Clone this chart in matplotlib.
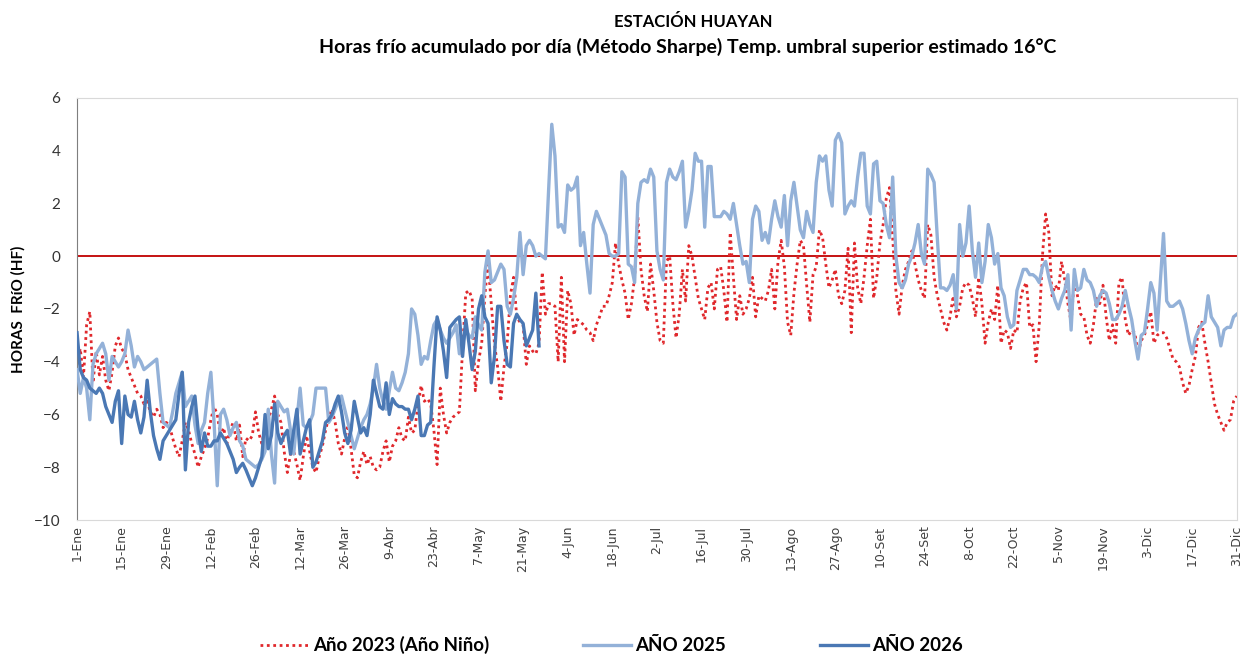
import numpy as np
import matplotlib
matplotlib.use("Agg")
import matplotlib.pyplot as plt

# Horas frio por dia, 1-Ene .. 31-Dic
anio_2023 = [
    # 1-Ene .. 13-Feb
    -4.1, -3.5, -4.6, -2.6, -2.1, -4.8, -3.6, -4.5, -3.8, -4.7, -5.1, -4.4, -3.4, -3.1, -3.5,
    -3.7, -4.3, -4.6, -4.9, -5.2, -5.3, -5.6, -5.5, -5.9, -6.1, -5.8, -6.0, -6.5, -6.3, -6.4,
    -6.9, -7.3, -7.6, -7.0, -6.3, -6.6, -7.1, -7.5, -8.0, -7.6, -7.3, -6.9, -6.2, -5.7,
    # 14-Feb .. 1-Abr
    -6.0, -6.8, -6.5, -7.1, -6.6, -6.3, -7.0, -6.4, -7.6, -6.9, -7.0, -6.8, -5.9, -6.7, -7.1,
    -6.5, -6.2, -5.8, -5.3, -6.0, -6.3, -7.4, -8.2, -7.5, -7.4, -7.9, -8.5, -7.6, -6.8, -7.4,
    -8.0, -8.2, -7.6, -7.2, -6.6, -6.1, -5.8, -6.3, -7.1, -7.5, -6.9, -6.4, -7.3, -8.3, -8.4,
    -7.8, -7.4,
    # 2-Abr .. 16-May
    -7.9, -7.6, -8.0, -8.1, -8.0, -7.4, -7.0, -7.8, -7.2, -7.0, -6.5, -6.9, -7.0, -6.1, -6.7,
    -6.6, -5.6, -4.9, -5.5, -5.4, -5.6, -6.6, -7.9, -5.0, -6.0, -6.7, -6.3, -6.1, -6.0, -5.9,
    -3.5, -1.4, -1.3, -1.6, -5.1, -4.0, -3.3, -1.5, -0.2, -1.8, -3.3, -4.2, -5.5, -4.2, -3.3,
    # 17-May .. 1-Jul
    -1.5, -0.8, -2.3, -2.5, -2.6, -4.1, -3.4, -3.6, -3.7, -3.3, -0.6, -2.2, -1.8, -1.8, -1.9,
    -4.0, -0.8, -4.0, -1.3, -1.8, -3.0, -2.4, -2.5, -2.6, -2.8, -2.9, -3.2, -2.6, -2.3, -1.9,
    -1.9, -1.5, -1.0, 0.5, -0.3, -0.9, -1.4, -2.4, -1.8, -0.8, 1.5, -0.5, -1.5, -2.1, -0.3,
    -1.3,
    # 2-Jul .. 15-Ago
    -2.5, -3.2, -3.3, -0.2, 0.0, -1.8, -3.1, -2.2, -0.5, -1.7, 0.4, 0.0, -0.8, -1.6, -2.0,
    -2.4, -1.2, -1.0, -2.0, -0.5, -0.4, -1.3, -2.5, 0.9, -0.8, -2.4, -1.5, -2.2, -2.0, -1.6,
    -0.8, -2.3, -1.5, -1.6, -1.7, -1.3, -0.5, -2.0, -0.2, 0.6, -0.4, -2.5, -3.0, -1.4, -0.3,
    # 16-Ago .. 30-Set
    0.6, 0.4, -1.1, -2.5, -0.7, -0.4, 1.0, 0.7, -0.3, -1.2, -0.9, -0.5, -1.5, -1.8, -1.3,
    0.3, -2.9, 0.5, -1.2, -1.8, -0.8, 0.4, 1.4, -1.6, -0.8, 0.5, 1.2, 2.2, 2.6, 0.7,
    -1.3, -2.2, -1.1, -0.5, -0.2, 0.2, -0.3, -0.9, -1.3, -1.6, 1.2, 0.8, -0.8, -1.5, -2.0,
    -2.5,
    # 1-Oct .. 14-Nov
    -2.8, -2.3, -1.5, -2.3, -1.9, -1.2, -1.0, -1.1, -1.6, -2.3, -0.8, -1.8, -3.3, -2.5, -2.0,
    -2.4, -1.1, -3.3, -2.8, -2.9, -3.5, -2.8, -2.9, -1.7, -1.2, -1.0, -2.7, -2.6, -4.0, -2.6,
    0.0, 1.6, 0.9, -1.5, -1.1, -1.3, -0.2, -0.9, -1.8, -2.5, -0.9, -1.5, -2.2, -2.3, -3.0,
    # 15-Nov .. 31-Dic
    -3.3, -2.6, -1.6, -1.8, -1.1, -2.3, -3.2, -2.6, -3.3, -1.0, -0.8, -2.4, -3.0, -2.8, -2.9,
    -3.7, -3.2, -3.0, -2.6, -2.1, -3.3, -3.0, -2.9, -2.9, -3.1, -3.5, -3.9, -4.0, -4.2, -4.8,
    -5.2, -4.9, -4.3, -3.8, -2.7, -2.5, -3.3, -4.0, -4.8, -5.6, -6.0, -6.3, -6.6, -6.3, -6.2,
    -5.5, -5.3,
]

anio_2025 = [
    -4.3, -5.2, -4.6, -5.0, -6.2, -4.1, -3.7, -3.5, -3.3, -3.7, -4.7, -3.8, -4.0, -4.2, -4.0,
    -3.7, -2.8, -3.4, -4.2, -3.8, -4.0, -4.3, -4.2, -4.1, -4.0, -3.9, -5.2, -6.3, -6.4, -6.5,
    -5.9, -5.2, -4.8, -4.4, -5.7, -5.5, -5.3, -6.4, -7.1, -6.6, -6.3, -5.2, -4.4, -6.3,
    -8.7, -6.0, -5.8, -6.2, -6.8, -6.5, -6.3, -7.0, -7.2, -7.7, -7.8, -7.9, -8.0, -7.9, -7.7,
    -7.4, -5.8, -7.5, -8.6, -5.5, -5.7, -5.9, -5.8, -6.6, -7.5, -6.2, -5.0, -6.4, -6.5, -6.3,
    -6.0, -5.0, -5.0, -5.0, -5.0, -6.3, -6.1, -5.8, -5.5, -5.3, -5.8, -6.3, -6.8, -7.3, -6.9,
    -6.5, -6.2,
    -6.0, -5.6, -5.0, -4.1, -5.0, -5.5, -5.8, -5.1, -4.4, -5.0, -5.1, -4.8, -4.4, -3.7, -2.0,
    -2.2, -3.0, -4.1, -3.8, -3.9, -3.2, -2.6, -2.4, -2.8, -3.1, -3.3, -3.1, -2.9, -2.6, -3.7,
    -3.3, -2.8, -3.0, -3.1, -2.3, -2.6, -2.8, -0.6, 0.2, -1.0, -0.9, -0.6, -0.3, -0.5, -1.9,
    -2.2, -1.6, -0.8, 0.9, -0.7, 0.4, 0.6, 0.4, 0.0, 0.1, 0.0, -0.1, 2.5, 5.0, 3.8,
    1.1, 1.2, 0.9, 2.7, 2.5, 2.6, 3.0, 0.4, 0.9, -0.3, -1.4, 1.2, 1.7, 1.4, 1.1,
    0.8, 0.1, 0.0, 0.0, 0.1, 3.2, 3.0, -0.3, -0.4, -1.0, 2.0, 2.8, 2.9, 2.8, 3.3,
    3.0,
    0.2, -0.5, -0.9, 2.8, 3.3, 3.0, 2.9, 3.2, 3.6, 1.1, 1.7, 2.5, 3.9, 3.6, 3.6,
    1.1, 3.4, 3.4, 1.5, 1.5, 1.5, 1.7, 1.6, 1.4, 2.0, 1.2, 0.4, -0.3, -0.2, -1.0,
    1.4, 1.9, 1.7, 0.6, 0.9, 0.5, 1.4, 2.1, 1.5, 1.1, 2.3, 0.4, 2.1, 2.8, 1.9,
    1.0, 0.7, 1.7, 1.2, 0.9, 2.8, 3.8, 3.6, 3.8, 2.5, 1.9, 4.4, 4.65, 4.3, 1.6,
    1.9, 2.1, 1.9, 3.0, 3.9, 3.9, 1.9, 1.6, 3.5, 3.6, 2.1, 2.0, 1.2, 0.7, 3.0,
    0.0, -1.0, -1.2, -0.9, -0.3, 0.0, 0.5, 1.2, 0.1, -0.3, 3.3, 3.1, 2.8, 0.7, -1.2,
    -1.2,
    -1.3, -1.1, -0.7, -2.0, 1.2, 0.0, 0.5, 1.9, 0.2, -0.8, 0.5, -1.0, -0.2, 1.2, 0.7,
    -0.3, 0.1, -1.2, -1.5, -2.3, -2.7, -2.6, -1.3, -0.9, -0.5, -0.5, -0.7, -0.7, -0.8, -1.0,
    -0.4, -0.2, -0.8, -1.3, -1.7, -2.0, -1.6, -1.3, -0.7, -2.8, -0.5, -1.3, -1.2, -0.5, -0.9,
    -1.0, -1.3, -1.9, -1.5, -1.3, -1.4, -1.8, -2.4, -2.4, -2.2, -1.9, -1.3, -1.9, -2.4, -3.2,
    -3.9, -3.0, -2.9, -2.0, -1.0, -1.4, -2.8, -1.0, 0.86, -1.7, -1.9, -1.9, -1.8, -1.7, -2.0,
    -2.55, -3.2, -3.7, -3.1, -2.8, -2.6, -2.5, -1.5, -2.3, -2.5, -2.7, -3.4, -2.8, -2.7, -2.7,
    -2.3, -2.2,
]

anio_2026 = [
    -2.9, -4.3, -4.6, -4.7, -5.0, -5.1, -5.2, -5.0, -5.2, -5.7, -6.0, -6.3, -5.5, -5.1, -7.1,
    -5.3, -6.0, -6.1, -5.5, -6.2, -6.7, -6.1, -4.7, -5.9, -6.8, -7.3, -7.7, -7.0, -6.8, -6.6,
    -6.4, -6.2, -5.2, -4.4, -8.1, -6.3, -5.7, -5.3, -6.6, -7.4, -6.7, -7.2, -7.2, -7.0,
    -7.0, -6.7, -6.9, -7.1, -7.4, -7.7, -8.2, -8.0, -7.85, -8.1, -8.4, -8.7, -8.4, -8.0, -7.6,
    -6.0, -7.3, -6.8, -5.6, -6.7, -7.1, -6.8, -6.6, -7.5, -6.6, -5.8, -7.5, -7.0, -6.5, -6.2,
    -8.0, -7.8, -7.4, -7.0, -6.3, -6.2, -6.0, -5.6, -5.3, -5.9, -6.7, -7.1, -6.6, -5.5, -6.1,
    -6.7, -6.5,
    -6.8, -6.0, -4.7, -5.2, -5.7, -5.8, -4.8, -6.0, -5.4, -5.6, -5.7, -5.7, -5.8, -5.8, -6.2,
    -5.8, -5.3, -6.8, -6.8, -6.4, -6.3, -4.2, -2.3, -2.8, -3.6, -4.6, -2.7, -2.55, -2.4, -2.3,
    -3.8, -2.4, -3.3, -4.3, -3.6, -2.0, -1.5, -2.3, -2.55, -4.8, -3.8, -1.9, -1.9, -3.2, -4.1,
    -4.2, -2.55, -2.2, -2.4, -2.55, -3.4, -3.1, -2.8, -1.4, -3.4,
]

etiquetas = ['1-Ene', '15-Ene', '29-Ene', '12-Feb', '26-Feb', '12-Mar', '26-Mar', '9-Abr',
             '23-Abr', '7-May', '21-May', '4-Jun', '18-Jun', '2-Jul', '16-Jul', '30-Jul',
             '13-Ago', '27-Ago', '10-Set', '24-Set', '8-Oct', '22-Oct', '5-Nov', '19-Nov',
             '3-Dic', '17-Dic', '31-Dic']
pos_etiquetas = list(range(0, 351, 14)) + [364]

plt.rcParams['font.family'] = ['Lato', 'DejaVu Sans']

fig = plt.figure(figsize=(12.43, 6.57), dpi=100)
ax = fig.add_axes([0.062, 0.2085, 0.933, 0.6425])

ax.axhline(0, color='#C00000', lw=1.3, zorder=1)
ax.plot(np.arange(len(anio_2023)), anio_2023, color='#E0282C', lw=2.0,
        linestyle=(0, (1, 1.3)), label='Año 2023 (Año Niño)', zorder=2)
ax.plot(np.arange(len(anio_2025)), anio_2025, color='#93B1D8', lw=2.4,
        label='AÑO 2025', zorder=3)
ax.plot(np.arange(len(anio_2026)), anio_2026, color='#4A78B4', lw=2.4,
        label='AÑO 2026', zorder=4)

ax.set_xlim(0, 364)
ax.set_ylim(-10, 6)
ax.set_yticks(range(-10, 7, 2))
ax.set_xticks(pos_etiquetas)
ax.set_xticklabels(etiquetas, rotation=90, fontsize=9, family='DejaVu Sans', color='#404040')
ax.tick_params(axis='y', labelsize=11, length=0, pad=12, colors='#333333')
ax.tick_params(axis='x', length=0, pad=4)

for s in ['top', 'right', 'bottom']:
    ax.spines[s].set_color('#D9D9D9')
ax.spines['left'].set_color('#7F7F7F')

ax.set_ylabel('HORAS  FRíO (HF)', fontsize=11, fontweight='bold', labelpad=6)

fig.text(0.558, 0.966, 'ESTACIÓN HUAYAN', ha='center', va='center',
         fontsize=12, fontweight='bold')
fig.text(0.553, 0.928, 'Horas frío acumulado por día (Método Sharpe) Temp. umbral superior estimado 16°C',
         ha='center', va='center', fontsize=14, fontweight='bold')

fig.legend(loc='center', bbox_to_anchor=(0.492, 0.018), ncol=3, frameon=False,
           prop={'weight': 'bold', 'size': 13.5},
           handlelength=2.6, columnspacing=5.0, handletextpad=0.2)

fig.savefig('out.png', dpi=100)
